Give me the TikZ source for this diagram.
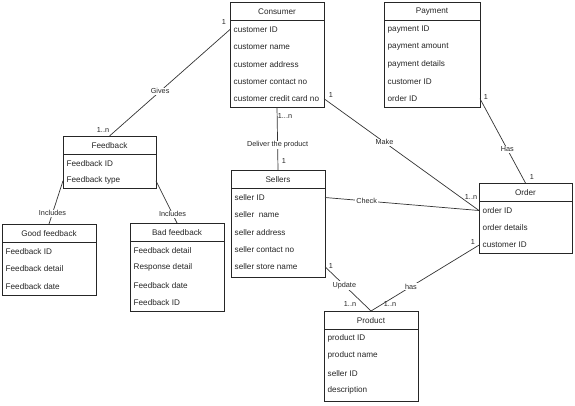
\documentclass[tikz,border=0pt]{standalone}
\usepackage{fontspec}
\setmainfont{Liberation Sans}
\begin{document}
\begin{tikzpicture}[x=1bp,y=-1bp,
  ebox/.style={draw=black!85,line width=0.8bp,rectangle,inner sep=0pt,outer sep=0pt,fill=white},
  eline/.style={draw=black!85,line width=0.8bp},
  etitle/.style={font=\fontsize{8.2}{9}\selectfont,inner sep=1bp,text=black!85},
  eattr/.style={font=\fontsize{8.2}{9}\selectfont,inner sep=1bp,anchor=west,text=black!85},
  conn/.style={draw=black!80,line width=0.7bp},
  lbl/.style={font=\fontsize{7.3}{8}\selectfont,fill=white,inner sep=0.8bp,text=black!85},
  mult/.style={font=\fontsize{7.3}{8}\selectfont,inner sep=0pt,text=black!85}]
\useasboundingbox (0,0) rectangle (575,405);
\newcommand\ent[7]{%
  \node[ebox,minimum width=#4bp,minimum height=#5bp,anchor=north west] (#1) at (#2,#3) {};
  \draw[eline] ([yshift=-18bp]#1.north west) -- ([yshift=-18bp]#1.north east);
  \node[etitle] (#1-t) at ([yshift=-9.5bp]#1.north) {#6};
  \foreach \a [count=\i] in {#7}
    \node[eattr] (#1-\i) at ([xshift=2.5bp,yshift={-27.5bp-(\i-1)*17.3bp}]#1.north west) {\a};
}
\ent{consumer}{230}{2}{94}{105}{Consumer}{customer ID,customer name,customer address,customer contact no,customer credit card no}
\ent{payment}{384}{2}{96}{105}{Payment}{payment ID,payment amount,payment details,customer ID,order ID}
\ent{feedback}{63}{136}{93}{52}{Feedback}{Feedback ID,Feedback type}
\ent{good}{2}{224}{94}{71}{Good feedback}{Feedback ID,Feedback detail,Feedback date}
\ent{bad}{130}{223}{94}{88}{Bad feedback}{Feedback detail,Response detail,Feedback date,Feedback ID}
\ent{sellers}{231}{170}{94}{107}{Sellers}{seller ID,seller\ \ name,seller address,seller contact no,seller store name}
\ent{order}{479}{183}{93}{70}{Order}{order ID,order details,customer ID}
\ent{product}{324}{311}{94}{90}{Product}{product ID,product name,seller ID,description}

\draw[conn] (consumer.west |- consumer-1) -- node[lbl,pos=.58] (l1) {Gives} (feedback.north);
\draw[conn] (feedback.west |- feedback-2) -- node[lbl,pos=.75] (l2) {Includes} (good.north);
\draw[conn] (feedback.east |- feedback-2) -- node[lbl,pos=.79] (l3) {Includes} (bad.north);
\draw[conn] (consumer.south) -- node[lbl,pos=.6] (l4) {Deliver the product} (sellers.north);
\draw[conn] (consumer.east |- consumer-5) -- node[lbl,pos=.39] (l5) {Make} (order.west |- order-1);
\draw[conn] (payment.east |- payment-5) -- node[lbl,pos=.6] (l6) {Has} (order.north);
\draw[conn] (sellers.east |- sellers-1) -- node[lbl,pos=.27] (l7) {Check} (order.west |- order-1);
\draw[conn] (sellers.east |- sellers-5) -- node[lbl,pos=.42] (l8) {Update} (product.north);
\draw[conn] (order.west |- order-3) -- node[lbl,pos=.63] (l9) {has} (product.north);

\node[mult] (m1) at (224,22) {1};
\node[mult] (m2) at (103,130) {1..n};
\node[mult] (m3) at (285,116) {1...n};
\node[mult] (m4) at (284,161) {1};
\node[mult] (m5) at (331,95) {1};
\node[mult] (m6) at (471,197) {1..n};
\node[mult] (m7) at (486,97) {1};
\node[mult] (m8) at (532,177) {1};
\node[mult] (m9) at (473,242) {1};
\node[mult] (m10) at (331,266) {1};
\node[mult] (m11) at (350,304) {1..n};
\node[mult] (m12) at (390,304) {1..n};
\end{tikzpicture}
\end{document}
